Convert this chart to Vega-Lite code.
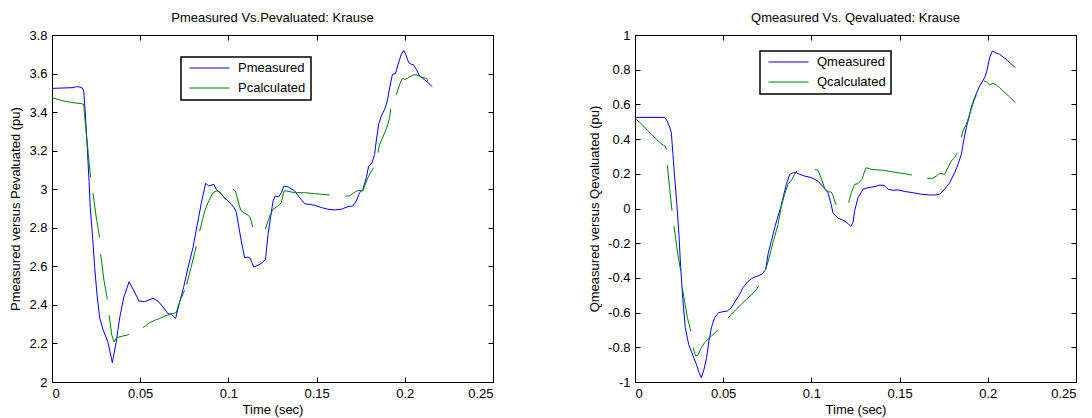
{
"$schema": "https://vega.github.io/schema/vega-lite/v6.json",
"padding": {"left": 9, "top": 11, "right": 2, "bottom": 2},
"bounds": "flush",
"spacing": 142,
"datasets": {
"p": [
{"t":0,"v":3.523,"s":"Pmeasured","g":0},{"t":0.0119,"v":3.527,"s":"Pmeasured","g":0},{"t":0.0138,"v":3.532,"s":"Pmeasured","g":0},{"t":0.0157,"v":3.530,"s":"Pmeasured","g":0},{"t":0.0172,"v":3.525,"s":"Pmeasured","g":0},{"t":0.0180,"v":3.509,"s":"Pmeasured","g":0},{"t":0.0189,"v":3.389,"s":"Pmeasured","g":0},{"t":0.0200,"v":3.215,"s":"Pmeasured","g":0},{"t":0.0210,"v":3.043,"s":"Pmeasured","g":0},{"t":0.0217,"v":2.904,"s":"Pmeasured","g":0},{"t":0.0229,"v":2.766,"s":"Pmeasured","g":0},{"t":0.0242,"v":2.593,"s":"Pmeasured","g":0},{"t":0.0255,"v":2.455,"s":"Pmeasured","g":0},{"t":0.0270,"v":2.334,"s":"Pmeasured","g":0},{"t":0.0289,"v":2.273,"s":"Pmeasured","g":0},{"t":0.0318,"v":2.204,"s":"Pmeasured","g":0},{"t":0.0342,"v":2.100,"s":"Pmeasured","g":0},{"t":0.0365,"v":2.213,"s":"Pmeasured","g":0},{"t":0.0384,"v":2.334,"s":"Pmeasured","g":0},{"t":0.0406,"v":2.437,"s":"Pmeasured","g":0},{"t":0.0437,"v":2.520,"s":"Pmeasured","g":0},{"t":0.0465,"v":2.472,"s":"Pmeasured","g":0},{"t":0.0493,"v":2.420,"s":"Pmeasured","g":0},{"t":0.0525,"v":2.417,"s":"Pmeasured","g":0},{"t":0.0573,"v":2.434,"s":"Pmeasured","g":0},{"t":0.0601,"v":2.420,"s":"Pmeasured","g":0},{"t":0.0629,"v":2.389,"s":"Pmeasured","g":0},{"t":0.0658,"v":2.354,"s":"Pmeasured","g":0},{"t":0.0677,"v":2.351,"s":"Pmeasured","g":0},{"t":0.0701,"v":2.330,"s":"Pmeasured","g":0},{"t":0.0720,"v":2.403,"s":"Pmeasured","g":0},{"t":0.0746,"v":2.491,"s":"Pmeasured","g":0},{"t":0.0771,"v":2.593,"s":"Pmeasured","g":0},{"t":0.0799,"v":2.697,"s":"Pmeasured","g":0},{"t":0.0823,"v":2.815,"s":"Pmeasured","g":0},{"t":0.0847,"v":2.930,"s":"Pmeasured","g":0},{"t":0.0871,"v":3.031,"s":"Pmeasured","g":0},{"t":0.0888,"v":3.017,"s":"Pmeasured","g":0},{"t":0.0918,"v":3.025,"s":"Pmeasured","g":0},{"t":0.0931,"v":3.000,"s":"Pmeasured","g":0},{"t":0.0960,"v":2.974,"s":"Pmeasured","g":0},{"t":0.0988,"v":2.948,"s":"Pmeasured","g":0},{"t":0.1017,"v":2.922,"s":"Pmeasured","g":0},{"t":0.1032,"v":2.905,"s":"Pmeasured","g":0},{"t":0.1045,"v":2.880,"s":"Pmeasured","g":0},{"t":0.1060,"v":2.800,"s":"Pmeasured","g":0},{"t":0.1073,"v":2.731,"s":"Pmeasured","g":0},{"t":0.1092,"v":2.645,"s":"Pmeasured","g":0},{"t":0.1111,"v":2.648,"s":"Pmeasured","g":0},{"t":0.1124,"v":2.641,"s":"Pmeasured","g":0},{"t":0.1143,"v":2.597,"s":"Pmeasured","g":0},{"t":0.1168,"v":2.605,"s":"Pmeasured","g":0},{"t":0.1192,"v":2.619,"s":"Pmeasured","g":0},{"t":0.1210,"v":2.636,"s":"Pmeasured","g":0},{"t":0.1225,"v":2.766,"s":"Pmeasured","g":0},{"t":0.1240,"v":2.860,"s":"Pmeasured","g":0},{"t":0.1253,"v":2.939,"s":"Pmeasured","g":0},{"t":0.1266,"v":2.965,"s":"Pmeasured","g":0},{"t":0.1285,"v":2.960,"s":"Pmeasured","g":0},{"t":0.1300,"v":2.982,"s":"Pmeasured","g":0},{"t":0.1315,"v":3.017,"s":"Pmeasured","g":0},{"t":0.1338,"v":3.012,"s":"Pmeasured","g":0},{"t":0.1376,"v":2.991,"s":"Pmeasured","g":0},{"t":0.1404,"v":2.956,"s":"Pmeasured","g":0},{"t":0.1432,"v":2.925,"s":"Pmeasured","g":0},{"t":0.1489,"v":2.917,"s":"Pmeasured","g":0},{"t":0.1527,"v":2.905,"s":"Pmeasured","g":0},{"t":0.1565,"v":2.896,"s":"Pmeasured","g":0},{"t":0.1602,"v":2.893,"s":"Pmeasured","g":0},{"t":0.1640,"v":2.896,"s":"Pmeasured","g":0},{"t":0.1678,"v":2.910,"s":"Pmeasured","g":0},{"t":0.1706,"v":2.913,"s":"Pmeasured","g":0},{"t":0.1725,"v":2.939,"s":"Pmeasured","g":0},{"t":0.1744,"v":2.982,"s":"Pmeasured","g":0},{"t":0.1763,"v":3.000,"s":"Pmeasured","g":0},{"t":0.1782,"v":3.060,"s":"Pmeasured","g":0},{"t":0.1795,"v":3.120,"s":"Pmeasured","g":0},{"t":0.1814,"v":3.137,"s":"Pmeasured","g":0},{"t":0.1829,"v":3.181,"s":"Pmeasured","g":0},{"t":0.1838,"v":3.250,"s":"Pmeasured","g":0},{"t":0.1852,"v":3.337,"s":"Pmeasured","g":0},{"t":0.1867,"v":3.380,"s":"Pmeasured","g":0},{"t":0.1886,"v":3.415,"s":"Pmeasured","g":0},{"t":0.1901,"v":3.458,"s":"Pmeasured","g":0},{"t":0.1914,"v":3.527,"s":"Pmeasured","g":0},{"t":0.1930,"v":3.596,"s":"Pmeasured","g":0},{"t":0.1947,"v":3.599,"s":"Pmeasured","g":0},{"t":0.1962,"v":3.648,"s":"Pmeasured","g":0},{"t":0.1980,"v":3.700,"s":"Pmeasured","g":0},{"t":0.1994,"v":3.720,"s":"Pmeasured","g":0},{"t":0.2005,"v":3.700,"s":"Pmeasured","g":0},{"t":0.2022,"v":3.657,"s":"Pmeasured","g":0},{"t":0.2037,"v":3.648,"s":"Pmeasured","g":0},{"t":0.2050,"v":3.645,"s":"Pmeasured","g":0},{"t":0.2065,"v":3.622,"s":"Pmeasured","g":0},{"t":0.2084,"v":3.587,"s":"Pmeasured","g":0},{"t":0.2109,"v":3.570,"s":"Pmeasured","g":0},{"t":0.2131,"v":3.553,"s":"Pmeasured","g":0},{"t":0.2156,"v":3.532,"s":"Pmeasured","g":0},
{"t":0,"v":3.475,"s":"Pcalculated","g":1},{"t":0.0062,"v":3.458,"s":"Pcalculated","g":1},{"t":0.0119,"v":3.449,"s":"Pcalculated","g":1},{"t":0.0166,"v":3.444,"s":"Pcalculated","g":1},{"t":0.0180,"v":3.440,"s":"Pcalculated","g":1},{"t":0.0185,"v":3.380,"s":"Pcalculated","g":1},{"t":0.0195,"v":3.285,"s":"Pcalculated","g":1},{"t":0.0206,"v":3.181,"s":"Pcalculated","g":1},{"t":0.0219,"v":3.060,"s":"Pcalculated","g":1},
{"t":0.0232,"v":2.980,"s":"Pcalculated","g":2},{"t":0.0250,"v":2.860,"s":"Pcalculated","g":2},{"t":0.0270,"v":2.749,"s":"Pcalculated","g":2},
{"t":0.0276,"v":2.662,"s":"Pcalculated","g":3},{"t":0.0295,"v":2.524,"s":"Pcalculated","g":3},{"t":0.0314,"v":2.429,"s":"Pcalculated","g":3},
{"t":0.0323,"v":2.348,"s":"Pcalculated","g":4},{"t":0.0331,"v":2.300,"s":"Pcalculated","g":4},{"t":0.0338,"v":2.247,"s":"Pcalculated","g":4},{"t":0.0352,"v":2.208,"s":"Pcalculated","g":4},{"t":0.0365,"v":2.227,"s":"Pcalculated","g":4},{"t":0.0380,"v":2.234,"s":"Pcalculated","g":4},{"t":0.0403,"v":2.239,"s":"Pcalculated","g":4},{"t":0.0421,"v":2.242,"s":"Pcalculated","g":4},{"t":0.0437,"v":2.247,"s":"Pcalculated","g":4},
{"t":0.0516,"v":2.282,"s":"Pcalculated","g":5},{"t":0.0554,"v":2.308,"s":"Pcalculated","g":5},{"t":0.0582,"v":2.320,"s":"Pcalculated","g":5},{"t":0.0610,"v":2.330,"s":"Pcalculated","g":5},{"t":0.0639,"v":2.342,"s":"Pcalculated","g":5},{"t":0.0667,"v":2.351,"s":"Pcalculated","g":5},{"t":0.0690,"v":2.356,"s":"Pcalculated","g":5},{"t":0.0705,"v":2.360,"s":"Pcalculated","g":5},{"t":0.0715,"v":2.394,"s":"Pcalculated","g":5},{"t":0.0733,"v":2.437,"s":"Pcalculated","g":5},{"t":0.0752,"v":2.476,"s":"Pcalculated","g":5},
{"t":0.0763,"v":2.505,"s":"Pcalculated","g":6},{"t":0.0790,"v":2.600,"s":"Pcalculated","g":6},{"t":0.0818,"v":2.705,"s":"Pcalculated","g":6},
{"t":0.0837,"v":2.783,"s":"Pcalculated","g":7},{"t":0.0856,"v":2.852,"s":"Pcalculated","g":7},{"t":0.0866,"v":2.887,"s":"Pcalculated","g":7},{"t":0.0884,"v":2.930,"s":"Pcalculated","g":7},{"t":0.0913,"v":2.982,"s":"Pcalculated","g":7},{"t":0.0931,"v":2.991,"s":"Pcalculated","g":7},{"t":0.0950,"v":2.987,"s":"Pcalculated","g":7},{"t":0.0969,"v":2.965,"s":"Pcalculated","g":7},{"t":0.0985,"v":2.945,"s":"Pcalculated","g":7},
{"t":0.1025,"v":3.000,"s":"Pcalculated","g":8},{"t":0.1040,"v":2.991,"s":"Pcalculated","g":8},{"t":0.1055,"v":2.939,"s":"Pcalculated","g":8},{"t":0.1070,"v":2.890,"s":"Pcalculated","g":8},{"t":0.1090,"v":2.877,"s":"Pcalculated","g":8},{"t":0.1111,"v":2.866,"s":"Pcalculated","g":8},{"t":0.1124,"v":2.852,"s":"Pcalculated","g":8},{"t":0.1138,"v":2.804,"s":"Pcalculated","g":8},
{"t":0.1209,"v":2.792,"s":"Pcalculated","g":9},{"t":0.1234,"v":2.861,"s":"Pcalculated","g":9},{"t":0.1253,"v":2.896,"s":"Pcalculated","g":9},{"t":0.1281,"v":2.913,"s":"Pcalculated","g":9},{"t":0.1300,"v":2.930,"s":"Pcalculated","g":9},{"t":0.1315,"v":2.991,"s":"Pcalculated","g":9},{"t":0.1328,"v":2.991,"s":"Pcalculated","g":9},{"t":0.1376,"v":2.982,"s":"Pcalculated","g":9},{"t":0.1432,"v":2.982,"s":"Pcalculated","g":9},{"t":0.1489,"v":2.977,"s":"Pcalculated","g":9},{"t":0.1527,"v":2.974,"s":"Pcalculated","g":9},{"t":0.1574,"v":2.970,"s":"Pcalculated","g":9},
{"t":0.1663,"v":2.965,"s":"Pcalculated","g":10},{"t":0.1687,"v":2.965,"s":"Pcalculated","g":10},{"t":0.1712,"v":2.982,"s":"Pcalculated","g":10},{"t":0.1735,"v":2.994,"s":"Pcalculated","g":10},{"t":0.1763,"v":2.991,"s":"Pcalculated","g":10},{"t":0.1776,"v":3.025,"s":"Pcalculated","g":10},{"t":0.1791,"v":3.060,"s":"Pcalculated","g":10},{"t":0.1806,"v":3.086,"s":"Pcalculated","g":10},{"t":0.1823,"v":3.112,"s":"Pcalculated","g":10},
{"t":0.1848,"v":3.190,"s":"Pcalculated","g":11},{"t":0.1857,"v":3.232,"s":"Pcalculated","g":11},{"t":0.1886,"v":3.293,"s":"Pcalculated","g":11},{"t":0.1901,"v":3.328,"s":"Pcalculated","g":11},{"t":0.1914,"v":3.371,"s":"Pcalculated","g":11},{"t":0.1920,"v":3.415,"s":"Pcalculated","g":11},
{"t":0.1952,"v":3.489,"s":"Pcalculated","g":12},{"t":0.1971,"v":3.544,"s":"Pcalculated","g":12},{"t":0.1986,"v":3.575,"s":"Pcalculated","g":12},{"t":0.2003,"v":3.570,"s":"Pcalculated","g":12},{"t":0.2022,"v":3.579,"s":"Pcalculated","g":12},{"t":0.2046,"v":3.593,"s":"Pcalculated","g":12},{"t":0.2065,"v":3.593,"s":"Pcalculated","g":12},{"t":0.2094,"v":3.582,"s":"Pcalculated","g":12},{"t":0.2122,"v":3.575,"s":"Pcalculated","g":12},{"t":0.2131,"v":3.561,"s":"Pcalculated","g":12}
],
"q": [
{"t":0,"v":0.525,"s":"Qmeasured","g":0},{"t":0.0168,"v":0.525,"s":"Qmeasured","g":0},{"t":0.0183,"v":0.504,"s":"Qmeasured","g":0},{"t":0.0196,"v":0.470,"s":"Qmeasured","g":0},{"t":0.0206,"v":0.437,"s":"Qmeasured","g":0},{"t":0.0215,"v":0.312,"s":"Qmeasured","g":0},{"t":0.0225,"v":0.178,"s":"Qmeasured","g":0},{"t":0.0237,"v":0.030,"s":"Qmeasured","g":0},{"t":0.0249,"v":-0.149,"s":"Qmeasured","g":0},{"t":0.0259,"v":-0.341,"s":"Qmeasured","g":0},{"t":0.0272,"v":-0.533,"s":"Qmeasured","g":0},{"t":0.0285,"v":-0.687,"s":"Qmeasured","g":0},{"t":0.0304,"v":-0.783,"s":"Qmeasured","g":0},{"t":0.0329,"v":-0.850,"s":"Qmeasured","g":0},{"t":0.0348,"v":-0.898,"s":"Qmeasured","g":0},{"t":0.0363,"v":-0.946,"s":"Qmeasured","g":0},{"t":0.0376,"v":-0.975,"s":"Qmeasured","g":0},{"t":0.0391,"v":-0.928,"s":"Qmeasured","g":0},{"t":0.0406,"v":-0.860,"s":"Qmeasured","g":0},{"t":0.0419,"v":-0.764,"s":"Qmeasured","g":0},{"t":0.0433,"v":-0.687,"s":"Qmeasured","g":0},{"t":0.0451,"v":-0.629,"s":"Qmeasured","g":0},{"t":0.0474,"v":-0.600,"s":"Qmeasured","g":0},{"t":0.0499,"v":-0.595,"s":"Qmeasured","g":0},{"t":0.0523,"v":-0.591,"s":"Qmeasured","g":0},{"t":0.0546,"v":-0.572,"s":"Qmeasured","g":0},{"t":0.0569,"v":-0.533,"s":"Qmeasured","g":0},{"t":0.0593,"v":-0.495,"s":"Qmeasured","g":0},{"t":0.0612,"v":-0.456,"s":"Qmeasured","g":0},{"t":0.0637,"v":-0.424,"s":"Qmeasured","g":0},{"t":0.0660,"v":-0.405,"s":"Qmeasured","g":0},{"t":0.0678,"v":-0.395,"s":"Qmeasured","g":0},{"t":0.0697,"v":-0.389,"s":"Qmeasured","g":0},{"t":0.0722,"v":-0.376,"s":"Qmeasured","g":0},{"t":0.0741,"v":-0.351,"s":"Qmeasured","g":0},{"t":0.0754,"v":-0.264,"s":"Qmeasured","g":0},{"t":0.0773,"v":-0.187,"s":"Qmeasured","g":0},{"t":0.0792,"v":-0.110,"s":"Qmeasured","g":0},{"t":0.0811,"v":-0.043,"s":"Qmeasured","g":0},{"t":0.0826,"v":0.005,"s":"Qmeasured","g":0},{"t":0.0839,"v":0.062,"s":"Qmeasured","g":0},{"t":0.0858,"v":0.139,"s":"Qmeasured","g":0},{"t":0.0877,"v":0.197,"s":"Qmeasured","g":0},{"t":0.0896,"v":0.206,"s":"Qmeasured","g":0},{"t":0.0914,"v":0.206,"s":"Qmeasured","g":0},{"t":0.0933,"v":0.197,"s":"Qmeasured","g":0},{"t":0.0962,"v":0.187,"s":"Qmeasured","g":0},{"t":0.0999,"v":0.178,"s":"Qmeasured","g":0},{"t":0.1037,"v":0.158,"s":"Qmeasured","g":0},{"t":0.1075,"v":0.115,"s":"Qmeasured","g":0},{"t":0.1094,"v":0.091,"s":"Qmeasured","g":0},{"t":0.1112,"v":0.024,"s":"Qmeasured","g":0},{"t":0.1122,"v":-0.024,"s":"Qmeasured","g":0},{"t":0.1150,"v":-0.055,"s":"Qmeasured","g":0},{"t":0.1188,"v":-0.072,"s":"Qmeasured","g":0},{"t":0.1210,"v":-0.090,"s":"Qmeasured","g":0},{"t":0.1224,"v":-0.103,"s":"Qmeasured","g":0},{"t":0.1236,"v":-0.080,"s":"Qmeasured","g":0},{"t":0.1245,"v":-0.014,"s":"Qmeasured","g":0},{"t":0.1264,"v":0.062,"s":"Qmeasured","g":0},{"t":0.1293,"v":0.111,"s":"Qmeasured","g":0},{"t":0.1321,"v":0.120,"s":"Qmeasured","g":0},{"t":0.1359,"v":0.126,"s":"Qmeasured","g":0},{"t":0.1388,"v":0.135,"s":"Qmeasured","g":0},{"t":0.1412,"v":0.133,"s":"Qmeasured","g":0},{"t":0.1435,"v":0.111,"s":"Qmeasured","g":0},{"t":0.1463,"v":0.105,"s":"Qmeasured","g":0},{"t":0.1491,"v":0.107,"s":"Qmeasured","g":0},{"t":0.1529,"v":0.098,"s":"Qmeasured","g":0},{"t":0.1577,"v":0.091,"s":"Qmeasured","g":0},{"t":0.1623,"v":0.082,"s":"Qmeasured","g":0},{"t":0.1671,"v":0.078,"s":"Qmeasured","g":0},{"t":0.1699,"v":0.078,"s":"Qmeasured","g":0},{"t":0.1727,"v":0.082,"s":"Qmeasured","g":0},{"t":0.1755,"v":0.111,"s":"Qmeasured","g":0},{"t":0.1784,"v":0.149,"s":"Qmeasured","g":0},{"t":0.1812,"v":0.206,"s":"Qmeasured","g":0},{"t":0.1831,"v":0.254,"s":"Qmeasured","g":0},{"t":0.1850,"v":0.312,"s":"Qmeasured","g":0},{"t":0.1863,"v":0.389,"s":"Qmeasured","g":0},{"t":0.1878,"v":0.466,"s":"Qmeasured","g":0},{"t":0.1893,"v":0.524,"s":"Qmeasured","g":0},{"t":0.1906,"v":0.581,"s":"Qmeasured","g":0},{"t":0.1925,"v":0.639,"s":"Qmeasured","g":0},{"t":0.1954,"v":0.706,"s":"Qmeasured","g":0},{"t":0.1982,"v":0.754,"s":"Qmeasured","g":0},{"t":0.1995,"v":0.793,"s":"Qmeasured","g":0},{"t":0.2010,"v":0.869,"s":"Qmeasured","g":0},{"t":0.2026,"v":0.908,"s":"Qmeasured","g":0},{"t":0.2043,"v":0.898,"s":"Qmeasured","g":0},{"t":0.2067,"v":0.889,"s":"Qmeasured","g":0},{"t":0.2096,"v":0.866,"s":"Qmeasured","g":0},{"t":0.2124,"v":0.841,"s":"Qmeasured","g":0},{"t":0.2156,"v":0.812,"s":"Qmeasured","g":0},
{"t":0,"v":0.520,"s":"Qcalculated","g":1},{"t":0.0039,"v":0.485,"s":"Qcalculated","g":1},{"t":0.0074,"v":0.447,"s":"Qcalculated","g":1},{"t":0.0103,"v":0.418,"s":"Qcalculated","g":1},{"t":0.0131,"v":0.389,"s":"Qcalculated","g":1},{"t":0.0159,"v":0.366,"s":"Qcalculated","g":1},{"t":0.0172,"v":0.360,"s":"Qcalculated","g":1},{"t":0.0178,"v":0.341,"s":"Qcalculated","g":1},
{"t":0.0183,"v":0.251,"s":"Qcalculated","g":2},{"t":0.0196,"v":0.120,"s":"Qcalculated","g":2},{"t":0.0210,"v":-0.014,"s":"Qcalculated","g":2},
{"t":0.0221,"v":-0.101,"s":"Qcalculated","g":3},{"t":0.0240,"v":-0.245,"s":"Qcalculated","g":3},{"t":0.0259,"v":-0.360,"s":"Qcalculated","g":3},
{"t":0.0268,"v":-0.456,"s":"Qcalculated","g":4},{"t":0.0281,"v":-0.533,"s":"Qcalculated","g":4},{"t":0.0297,"v":-0.629,"s":"Qcalculated","g":4},{"t":0.0316,"v":-0.706,"s":"Qcalculated","g":4},
{"t":0.0329,"v":-0.802,"s":"Qcalculated","g":5},{"t":0.0344,"v":-0.850,"s":"Qcalculated","g":5},{"t":0.0357,"v":-0.845,"s":"Qcalculated","g":5},{"t":0.0376,"v":-0.802,"s":"Qcalculated","g":5},{"t":0.0395,"v":-0.773,"s":"Qcalculated","g":5},{"t":0.0423,"v":-0.744,"s":"Qcalculated","g":5},{"t":0.0448,"v":-0.721,"s":"Qcalculated","g":5},{"t":0.0470,"v":-0.700,"s":"Qcalculated","g":5},
{"t":0.0527,"v":-0.633,"s":"Qcalculated","g":6},{"t":0.0546,"v":-0.610,"s":"Qcalculated","g":6},{"t":0.0574,"v":-0.581,"s":"Qcalculated","g":6},{"t":0.0603,"v":-0.552,"s":"Qcalculated","g":6},{"t":0.0631,"v":-0.524,"s":"Qcalculated","g":6},{"t":0.0659,"v":-0.499,"s":"Qcalculated","g":6},{"t":0.0688,"v":-0.466,"s":"Qcalculated","g":6},{"t":0.0701,"v":-0.447,"s":"Qcalculated","g":6},
{"t":0.0741,"v":-0.351,"s":"Qcalculated","g":7},{"t":0.0763,"v":-0.274,"s":"Qcalculated","g":7},{"t":0.0782,"v":-0.197,"s":"Qcalculated","g":7},{"t":0.0811,"v":-0.091,"s":"Qcalculated","g":7},{"t":0.0829,"v":0.010,"s":"Qcalculated","g":7},{"t":0.0848,"v":0.082,"s":"Qcalculated","g":7},{"t":0.0867,"v":0.139,"s":"Qcalculated","g":7},{"t":0.0886,"v":0.162,"s":"Qcalculated","g":7},{"t":0.0905,"v":0.197,"s":"Qcalculated","g":7},{"t":0.0918,"v":0.216,"s":"Qcalculated","g":7},
{"t":0.1019,"v":0.224,"s":"Qcalculated","g":8},{"t":0.1037,"v":0.221,"s":"Qcalculated","g":8},{"t":0.1054,"v":0.178,"s":"Qcalculated","g":8},{"t":0.1076,"v":0.115,"s":"Qcalculated","g":8},{"t":0.1095,"v":0.097,"s":"Qcalculated","g":8},{"t":0.1112,"v":0.095,"s":"Qcalculated","g":8},{"t":0.1124,"v":0.072,"s":"Qcalculated","g":8},{"t":0.1132,"v":0.043,"s":"Qcalculated","g":8},{"t":0.1140,"v":0.020,"s":"Qcalculated","g":8},
{"t":0.1211,"v":0.033,"s":"Qcalculated","g":9},{"t":0.1226,"v":0.091,"s":"Qcalculated","g":9},{"t":0.1245,"v":0.139,"s":"Qcalculated","g":9},{"t":0.1264,"v":0.143,"s":"Qcalculated","g":9},{"t":0.1287,"v":0.168,"s":"Qcalculated","g":9},{"t":0.1302,"v":0.216,"s":"Qcalculated","g":9},{"t":0.1311,"v":0.235,"s":"Qcalculated","g":9},{"t":0.1340,"v":0.226,"s":"Qcalculated","g":9},{"t":0.1377,"v":0.222,"s":"Qcalculated","g":9},{"t":0.1415,"v":0.220,"s":"Qcalculated","g":9},{"t":0.1453,"v":0.212,"s":"Qcalculated","g":9},{"t":0.1491,"v":0.206,"s":"Qcalculated","g":9},{"t":0.1529,"v":0.201,"s":"Qcalculated","g":9},{"t":0.1570,"v":0.193,"s":"Qcalculated","g":9},
{"t":0.1657,"v":0.174,"s":"Qcalculated","g":10},{"t":0.1689,"v":0.174,"s":"Qcalculated","g":10},{"t":0.1708,"v":0.187,"s":"Qcalculated","g":10},{"t":0.1727,"v":0.203,"s":"Qcalculated","g":10},{"t":0.1755,"v":0.197,"s":"Qcalculated","g":10},{"t":0.1774,"v":0.235,"s":"Qcalculated","g":10},{"t":0.1793,"v":0.274,"s":"Qcalculated","g":10},{"t":0.1812,"v":0.293,"s":"Qcalculated","g":10},{"t":0.1827,"v":0.322,"s":"Qcalculated","g":10},
{"t":0.1850,"v":0.408,"s":"Qcalculated","g":11},{"t":0.1859,"v":0.447,"s":"Qcalculated","g":11},{"t":0.1878,"v":0.485,"s":"Qcalculated","g":11},{"t":0.1891,"v":0.524,"s":"Qcalculated","g":11},{"t":0.1906,"v":0.572,"s":"Qcalculated","g":11},{"t":0.1921,"v":0.620,"s":"Qcalculated","g":11},{"t":0.1935,"v":0.654,"s":"Qcalculated","g":11},
{"t":0.1978,"v":0.735,"s":"Qcalculated","g":12},{"t":0.1992,"v":0.731,"s":"Qcalculated","g":12},{"t":0.2010,"v":0.712,"s":"Qcalculated","g":12},{"t":0.2029,"v":0.722,"s":"Qcalculated","g":12},{"t":0.2048,"v":0.712,"s":"Qcalculated","g":12},{"t":0.2067,"v":0.696,"s":"Qcalculated","g":12},{"t":0.2096,"v":0.668,"s":"Qcalculated","g":12},{"t":0.2124,"v":0.643,"s":"Qcalculated","g":12},{"t":0.2156,"v":0.610,"s":"Qcalculated","g":12}
]
},
"hconcat": [
{
"width": 441, "height": 347,
"title": "Pmeasured Vs.Pevaluated: Krause",
"data": {"name": "p"},
"layer": [
{"mark": {"type": "line", "strokeWidth": 1},
 "encoding": {
  "x": {"field": "t", "type": "quantitative", "scale": {"domain": [0, 0.25], "nice": false, "zero": false},
        "axis": {"orient": "bottom", "values": [0, 0.05, 0.1, 0.15, 0.2, 0.25], "title": "Time (sec)", "labelExpr": "'' + datum.value"}},
  "y": {"field": "v", "type": "quantitative", "scale": {"domain": [2, 3.8], "nice": false, "zero": false},
        "axis": {"orient": "left", "values": [2, 2.2, 2.4, 2.6, 2.8, 3, 3.2, 3.4, 3.6, 3.8], "title": "Pmeasured versus Pevaluated (pu)", "labelExpr": "'' + datum.value"}},
  "color": {"field": "s", "type": "nominal", "scale": {"domain": ["Pmeasured", "Pcalculated"], "range": ["#0000ff", "#008000"]},
            "legend": {"orient": "none", "legendX": 129, "legendY": 22}},
  "detail": {"field": "g", "type": "nominal"}
 }},
{"mark": {"type": "line", "opacity": 0},
 "encoding": {
  "x": {"field": "t", "type": "quantitative", "scale": {"domain": [0, 0.25], "nice": false, "zero": false},
        "axis": {"orient": "top", "values": [0, 0.05, 0.1, 0.15, 0.2, 0.25], "labels": false, "title": null}},
  "y": {"field": "v", "type": "quantitative", "scale": {"domain": [2, 3.8], "nice": false, "zero": false},
        "axis": {"orient": "right", "values": [2, 2.2, 2.4, 2.6, 2.8, 3, 3.2, 3.4, 3.6, 3.8], "labels": false, "title": null}},
  "detail": {"field": "g", "type": "nominal"}
 }}
],
"resolve": {"axis": {"x": "independent", "y": "independent"}}
},
{
"width": 441, "height": 347,
"title": "Qmeasured Vs. Qevaluated: Krause",
"data": {"name": "q"},
"layer": [
{"mark": {"type": "line", "strokeWidth": 1},
 "encoding": {
  "x": {"field": "t", "type": "quantitative", "scale": {"domain": [0, 0.25], "nice": false, "zero": false},
        "axis": {"orient": "bottom", "values": [0, 0.05, 0.1, 0.15, 0.2, 0.25], "title": "Time (sec)", "labelExpr": "'' + datum.value"}},
  "y": {"field": "v", "type": "quantitative", "scale": {"domain": [-1, 1], "nice": false, "zero": false},
        "axis": {"orient": "left", "values": [-1, -0.8, -0.6, -0.4, -0.2, 0, 0.2, 0.4, 0.6, 0.8, 1], "title": "Qmeasured versus Qevaluated (pu)", "labelExpr": "'' + datum.value"}},
  "color": {"field": "s", "type": "nominal", "scale": {"domain": ["Qmeasured", "Qcalculated"], "range": ["#0000ff", "#008000"]},
            "legend": {"orient": "none", "legendX": 125, "legendY": 16}},
  "detail": {"field": "g", "type": "nominal"}
 }},
{"mark": {"type": "line", "opacity": 0},
 "encoding": {
  "x": {"field": "t", "type": "quantitative", "scale": {"domain": [0, 0.25], "nice": false, "zero": false},
        "axis": {"orient": "top", "values": [0, 0.05, 0.1, 0.15, 0.2, 0.25], "labels": false, "title": null}},
  "y": {"field": "v", "type": "quantitative", "scale": {"domain": [-1, 1], "nice": false, "zero": false},
        "axis": {"orient": "right", "values": [-1, -0.8, -0.6, -0.4, -0.2, 0, 0.2, 0.4, 0.6, 0.8, 1], "labels": false, "title": null}},
  "detail": {"field": "g", "type": "nominal"}
 }}
],
"resolve": {"axis": {"x": "independent", "y": "independent"}}
}
],
"resolve": {"scale": {"color": "independent", "x": "independent", "y": "independent"}},
"config": {
 "font": "Liberation Sans",
 "background": "white",
 "view": {"stroke": "black", "strokeWidth": 1},
 "axis": {"domainColor": "black", "domainWidth": 1, "tickColor": "black", "tickSize": -5, "tickWidth": 1, "labelColor": "black", "labelFontSize": 13, "labelPadding": 10, "titleFontSize": 13, "titleFontWeight": "normal", "titleColor": "black", "grid": false, "labelFont": "Liberation Sans", "titleFont": "Liberation Sans"},
 "axisY": {"titlePadding": 6},
 "axisX": {"titlePadding": 3},
 "title": {"fontSize": 13, "fontWeight": "normal", "color": "black", "font": "Liberation Sans", "anchor": "middle", "offset": 4},
 "legend": {"title": null, "symbolType": "stroke", "symbolSize": 1600, "symbolStrokeWidth": 1, "symbolOffset": 3, "clipHeight": 12, "rowPadding": 7, "labelFontSize": 13, "labelFont": "Liberation Sans", "labelColor": "black", "labelOffset": 8, "padding": 5, "strokeColor": "black", "strokeWidth": 1.5, "fillColor": "white"}
}
}
